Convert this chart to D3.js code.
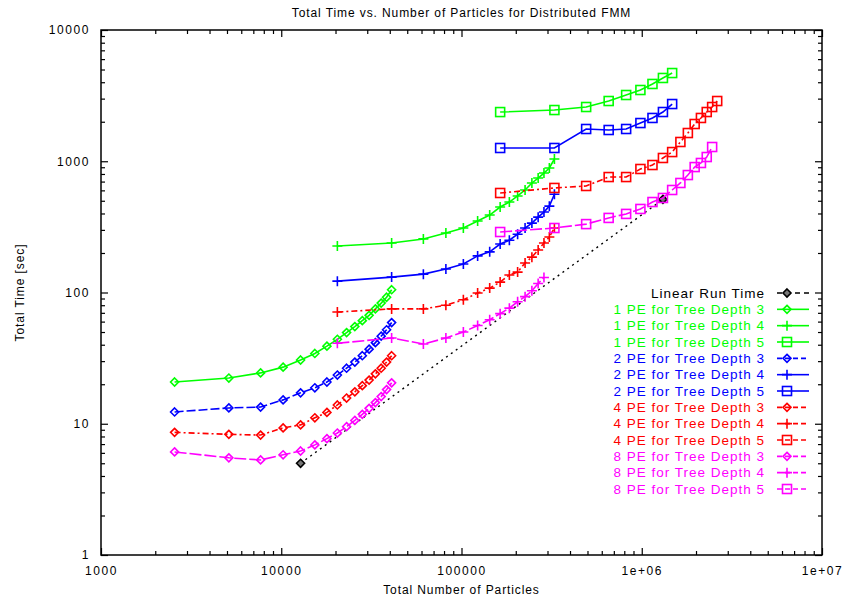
<!DOCTYPE html>
<html lang="en">
  <head>
    <meta charset="utf-8" />
    <title>Total Time vs. Number of Particles for Distributed FMM</title>
    <script src="https://cdn.jsdelivr.net/npm/d3@7"></script>
    <style>
      body { margin: 0; background: #fff; }
      svg text { font-family: "Liberation Sans", Arial, sans-serif; }
    </style>
  </head>
  <body>
    <div id="chart"></div>
    <script>
// particle counts per tree depth
const nDepth3 = [2560, 5120, 7680, 10240, 12800, 15360, 17920, 20480, 23040, 25600, 28160, 30720, 33280, 35840, 38400, 40960];
const nDepth4 = [20480, 40960, 61440, 81920, 102400, 122880, 143360, 163840, 184320, 204800, 225280, 245760, 266240, 286720, 307200, 327680];
const nDepth5 = [163840, 327680, 491520, 655360, 819200, 983040, 1146880, 1310720, 1474560, 1638400, 1802240, 1966080, 2129920, 2293760, 2457600, 2621440];

// linear reference
const nLinear = [12800, 1310720];
const tLinear = [5, 512];

// total time [sec]
const pe1Depth3 = [20.8, 22.3, 24.4, 27, 30.6, 34.3, 39, 44, 49.5, 55, 61, 67, 75, 83, 92, 105];
const pe1Depth4 = [226, 238, 256, 284, 310, 351, 389, 448, 489, 544, 604, 683, 745, 813, 889, 1040];
const pe1Depth5 = [2370, 2456, 2590, 2877, 3197, 3490, 3880, 4310, 4700];

const pe2Depth3 = [12.3, 13.2, 13.4, 15.2, 17.2, 18.8, 20.8, 23.5, 26.5, 29.5, 33, 37, 41.5, 46.5, 52, 59];
const pe2Depth4 = [122, 131, 138, 151, 165, 190, 204, 234, 250, 278, 310, 338, 375, 410, 455, 560];
const pe2Depth5 = [1262, 1262, 1761, 1730, 1761, 1955, 2137, 2372, 2729];

const pe4Depth3 = [8.6, 8.3, 8.2, 9.3, 9.8, 11.1, 12.2, 13.9, 15.7, 17.5, 19.5, 21.5, 24, 26.5, 29.5, 33];
const pe4Depth4 = [71, 75, 75, 80, 88, 99, 108, 120, 136, 143, 168, 186, 211, 238, 265, 310];
const pe4Depth5 = [573, 626, 648, 758, 758, 873, 936, 1059, 1175, 1402, 1641, 1922, 2137, 2372, 2589, 2877];

const pe8Depth3 = [6.1, 5.5, 5.3, 5.8, 6.2, 6.9, 7.7, 8.5, 9.5, 10.6, 11.8, 13.1, 14.5, 16.1, 18.2, 20.5];
const pe8Depth4 = [41, 45, 40.5, 45, 50, 56, 62, 69, 76, 85, 93, 103, 117, 130];
const pe8Depth5 = [289, 310, 332, 370, 397, 433, 489, 525, 604, 683, 785, 903, 970, 1077, 1284];

const xTickValues = [1e3, 1e4, 1e5, 1e6, 1e7];
const xTickLabels = ["1000", "10000", "100000", "1e+06", "1e+07"];
const yTickValues = [1, 10, 100, 1000, 10000];
const yTickLabels = ["1", "10", "100", "1000", "10000"];

const seriesLabels = [
  "Linear Run Time",
  "1 PE for Tree Depth 3", "1 PE for Tree Depth 4", "1 PE for Tree Depth 5",
  "2 PE for Tree Depth 3", "2 PE for Tree Depth 4", "2 PE for Tree Depth 5",
  "4 PE for Tree Depth 3", "4 PE for Tree Depth 4", "4 PE for Tree Depth 5",
  "8 PE for Tree Depth 3", "8 PE for Tree Depth 4", "8 PE for Tree Depth 5"
];

const width = 844, height = 599;
const plotLeft = 101, plotRight = 822, plotTop = 30, plotBottom = 555;

const x = d3.scaleLog().domain([1e3, 1e7]).range([plotLeft, plotRight]);
const y = d3.scaleLog().domain([1, 1e4]).range([plotBottom, plotTop]);

const peColor = { 1: "#00ff00", 2: "#0000ff", 4: "#ff0000", 8: "#ff00ff" };
const peDash = { 1: null, 2: "9,3", 4: "6,3,2,3", 8: "12,3" };

function zip(xs, ys) { return ys.map((v, i) => [xs[i], v]); }

const series = [
  { label: seriesLabels[0], color: "#000", dash: "2,4", marker: "linear", pts: zip(nLinear, tLinear) },
  { label: seriesLabels[1], color: peColor[1], dash: peDash[1], marker: 3, pts: zip(nDepth3, pe1Depth3) },
  { label: seriesLabels[2], color: peColor[1], dash: peDash[1], marker: 4, pts: zip(nDepth4, pe1Depth4) },
  { label: seriesLabels[3], color: peColor[1], dash: peDash[1], marker: 5, pts: zip(nDepth5, pe1Depth5) },
  { label: seriesLabels[4], color: peColor[2], dash: peDash[2], marker: 3, pts: zip(nDepth3, pe2Depth3) },
  { label: seriesLabels[5], color: peColor[2], dash: null, marker: 4, pts: zip(nDepth4, pe2Depth4) },
  { label: seriesLabels[6], color: peColor[2], dash: null, marker: 5, pts: zip(nDepth5, pe2Depth5) },
  { label: seriesLabels[7], color: peColor[4], dash: peDash[4], marker: 3, pts: zip(nDepth3, pe4Depth3) },
  { label: seriesLabels[8], color: peColor[4], dash: peDash[4], marker: 4, pts: zip(nDepth4, pe4Depth4) },
  { label: seriesLabels[9], color: peColor[4], dash: peDash[4], marker: 5, pts: zip(nDepth5, pe4Depth5) },
  { label: seriesLabels[10], color: peColor[8], dash: peDash[8], marker: 3, pts: zip(nDepth3, pe8Depth3) },
  { label: seriesLabels[11], color: peColor[8], dash: peDash[8], marker: 4, pts: zip(nDepth4, pe8Depth4) },
  { label: seriesLabels[12], color: peColor[8], dash: peDash[8], marker: 5, pts: zip(nDepth5, pe8Depth5) }
];

const svg = d3.select("#chart").append("svg")
    .attr("width", width)
    .attr("height", height)
    .attr("viewBox", [0, 0, width, height]);

// minor ticks 2..9 in each decade
function minors(scale) {
  const [a, b] = scale.domain();
  const out = [];
  for (let d = a; d < b; d *= 10)
    for (let k = 2; k <= 9; k++) out.push(d * k);
  return out;
}

function drawAxis(axis, tx, ty) {
  const g = svg.append("g").attr("transform", `translate(${tx},${ty})`).call(axis);
  g.select(".domain").remove();
  g.selectAll(".tick line").attr("stroke", "#000").attr("stroke-width", 1.2);
  return g;
}

// bottom / top
drawAxis(d3.axisBottom(x).tickValues(xTickValues).tickFormat((d, i) => xTickLabels[i]).tickSize(-7).tickPadding(11), 0, plotBottom)
  .selectAll("text").attr("font-size", 12).attr("letter-spacing", 1.6).attr("fill", "#000");
drawAxis(d3.axisBottom(x).tickValues(minors(x)).tickFormat("").tickSize(-4), 0, plotBottom);
drawAxis(d3.axisTop(x).tickValues(xTickValues).tickFormat("").tickSize(-7), 0, plotTop);
drawAxis(d3.axisTop(x).tickValues(minors(x)).tickFormat("").tickSize(-4), 0, plotTop);

// left / right
drawAxis(d3.axisLeft(y).tickValues(yTickValues).tickFormat((d, i) => yTickLabels[i]).tickSize(-7).tickPadding(11), plotLeft, 0)
  .selectAll("text").attr("font-size", 12).attr("letter-spacing", 1.6).attr("fill", "#000");
drawAxis(d3.axisLeft(y).tickValues(minors(y)).tickFormat("").tickSize(-4), plotLeft, 0);
drawAxis(d3.axisRight(y).tickValues(yTickValues).tickFormat("").tickSize(-7), plotRight, 0);
drawAxis(d3.axisRight(y).tickValues(minors(y)).tickFormat("").tickSize(-4), plotRight, 0);

svg.append("rect")
    .attr("x", plotLeft).attr("y", plotTop)
    .attr("width", plotRight - plotLeft).attr("height", plotBottom - plotTop)
    .attr("fill", "none").attr("stroke", "#000").attr("stroke-width", 1.5);

// titles
svg.append("text")
    .attr("x", (plotLeft + plotRight) / 2).attr("y", 17)
    .attr("text-anchor", "middle").attr("font-size", 12).attr("letter-spacing", 0.9)
    .text("Total Time vs. Number of Particles for Distributed FMM");

svg.append("text")
    .attr("x", (plotLeft + plotRight) / 2).attr("y", 594)
    .attr("text-anchor", "middle").attr("font-size", 12).attr("letter-spacing", 0.9)
    .text("Total Number of Particles");

svg.append("text")
    .attr("transform", `translate(24,${(plotTop + plotBottom) / 2}) rotate(-90)`)
    .attr("text-anchor", "middle").attr("font-size", 12).attr("letter-spacing", 0.9)
    .text("Total Time [sec]");

const line = d3.line().x(d => x(d[0])).y(d => y(d[1]));

function marker(g, type, color, cx, cy) {
  if (type === 4) {
    g.append("path")
        .attr("d", `M${cx - 5},${cy}H${cx + 5}M${cx},${cy - 5}V${cy + 5}`)
        .attr("stroke", color).attr("stroke-width", 1.6).attr("fill", "none");
  } else if (type === 5) {
    g.append("rect")
        .attr("x", cx - 4.5).attr("y", cy - 4.5).attr("width", 9).attr("height", 9)
        .attr("stroke", color).attr("stroke-width", 1.6).attr("fill", "none");
  } else {
    g.append("path")
        .attr("d", `M${cx},${cy - 4}L${cx + 4},${cy}L${cx},${cy + 4}L${cx - 4},${cy}Z`)
        .attr("stroke", color).attr("stroke-width", 1.6)
        .attr("fill", type === "linear" ? "#777" : "none");
  }
}

const plot = svg.append("g");
series.forEach(s => {
  plot.append("path")
      .attr("d", line(s.pts))
      .attr("fill", "none")
      .attr("stroke", s.color)
      .attr("stroke-width", s.marker === "linear" ? 1.4 : 1.6)
      .attr("stroke-dasharray", s.dash);
  const mg = plot.append("g");
  s.pts.forEach(p => marker(mg, s.marker, s.color, x(p[0]), y(p[1])));
});

// legend
const legend = svg.append("g");
const rowY = d3.scaleLinear().domain([0, 12]).range([293, 489]);
series.forEach((s, i) => {
  const yy = rowY(i);
  legend.append("text")
      .attr("x", 765).attr("y", yy).attr("dy", "0.35em")
      .attr("text-anchor", "end").attr("font-size", 13.5).attr("letter-spacing", 1)
      .attr("fill", s.color)
      .text(s.label);
  legend.append("line")
      .attr("x1", 777).attr("x2", 809).attr("y1", yy).attr("y2", yy)
      .attr("stroke", s.color).attr("stroke-width", 1.6)
      .attr("stroke-dasharray", s.marker === "linear" ? "5,4" : s.dash ? "5,3" : null);
  marker(legend, s.marker, s.color, 787, yy);
});
    </script>
  </body>
</html>
